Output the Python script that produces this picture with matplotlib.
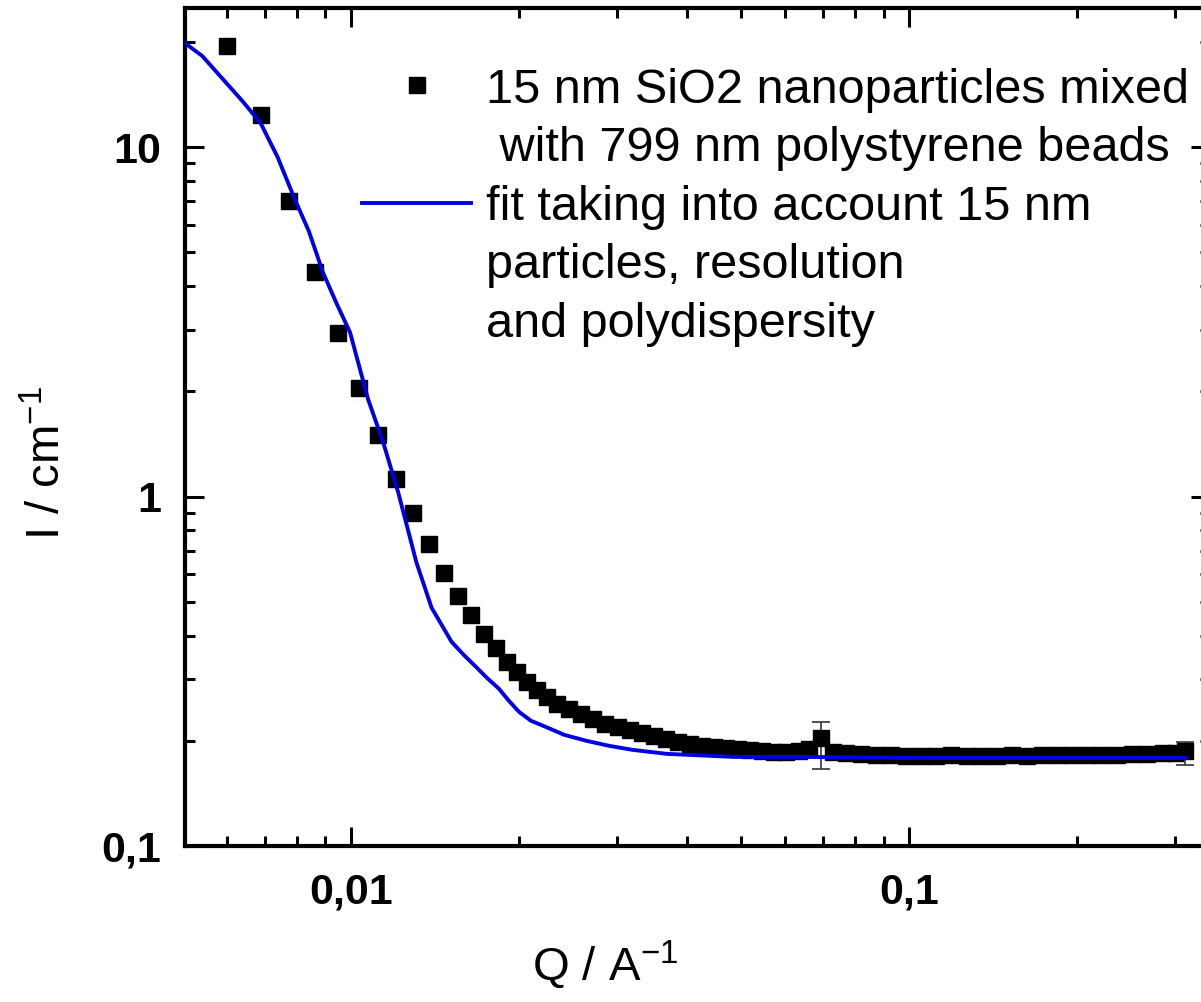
import matplotlib
matplotlib.use('Agg')
import matplotlib.pyplot as plt
from matplotlib.lines import Line2D
from matplotlib.ticker import FixedLocator, FixedFormatter, LogLocator, NullFormatter

plt.rcParams['font.family'] = ['Liberation Sans', 'DejaVu Sans']
plt.rcParams['mathtext.fontset'] = 'custom'
plt.rcParams['mathtext.rm'] = 'Liberation Sans'
plt.rcParams['mathtext.default'] = 'regular'

# measured data (Q in 1/A, I in 1/cm)
q_data = [0.00600, 0.00689, 0.00773, 0.00861, 0.00948, 0.01033, 0.01118, 0.01205,
          0.01293, 0.01382, 0.01465, 0.01552, 0.01639, 0.01729, 0.01817, 0.01902,
          0.01983, 0.02067, 0.02154, 0.02246, 0.02341,
          0.02460, 0.02586, 0.02718, 0.02857, 0.03003, 0.03156, 0.03317, 0.03486,
          0.03664, 0.03851, 0.04048, 0.04254, 0.04472, 0.04700, 0.04940, 0.05192,
          0.05457, 0.05735, 0.06028, 0.06336, 0.06604, 0.06941, 0.07296, 0.07700,
          0.08195, 0.08720, 0.09281, 0.09876, 0.1051, 0.1118, 0.1190, 0.1267,
          0.1348, 0.1435, 0.1527, 0.1625, 0.1729, 0.1840, 0.1958, 0.2084, 0.2218,
          0.2361, 0.2512, 0.2673, 0.2846, 0.2991, 0.3118]
i_data = [19.5, 12.35, 7.00, 4.38, 2.93, 2.05, 1.496, 1.126,
          0.900, 0.733, 0.606, 0.520, 0.459, 0.405, 0.369, 0.337,
          0.315, 0.295, 0.280, 0.267, 0.255,
          0.2470, 0.2389, 0.2311, 0.2237, 0.2193, 0.2150, 0.2108, 0.2066,
          0.2025, 0.1986, 0.1960, 0.1934, 0.1922, 0.1909, 0.1896, 0.1884,
          0.1871, 0.1859, 0.1859, 0.1871, 0.1896, 0.2039, 0.1859, 0.1847,
          0.1835, 0.1823, 0.1823, 0.1811, 0.1811, 0.1811, 0.1823, 0.1811,
          0.1811, 0.1811, 0.1823, 0.1811, 0.1823, 0.1823, 0.1823, 0.1823, 0.1823,
          0.1823, 0.1835, 0.1835, 0.1847, 0.1847, 0.1871]

# points with visible error bars
q_err = [0.06941, 0.3118]
i_err = [0.2039, 0.1871]
err_low = [0.0377, 0.0165]
err_high = [0.0227, 0.0115]

# fit curve
q_fit = [0.004981, 0.005412, 0.005955, 0.006389, 0.006885, 0.007387, 0.007927,
         0.008403, 0.008904, 0.009436, 0.009959, 0.01073, 0.01142, 0.01215,
         0.01310, 0.01394, 0.01514, 0.01591, 0.01673, 0.01751, 0.01840, 0.01918,
         0.02000, 0.02101, 0.02236, 0.02410, 0.02640, 0.02904, 0.03195, 0.03681,
         0.04838, 0.06390, 0.0967, 0.3130]
i_fit = [20.12, 18.23, 15.36, 13.54, 11.72, 9.36, 7.10,
         5.745, 4.383, 3.549, 2.951, 1.897, 1.428, 1.027,
         0.647, 0.481, 0.384, 0.3526, 0.326, 0.3030, 0.282, 0.2603,
         0.242, 0.2282, 0.219, 0.2080, 0.200, 0.1934, 0.1884, 0.1835,
         0.1799, 0.1799, 0.1787, 0.1787]

label_data = ["15 nm SiO2 nanoparticles mixed", " with 799 nm polystyrene beads"]
label_fit = ["fit taking into account 15 nm", "particles, resolution", "and polydispersity"]

x_ticks = [0.01, 0.1]
x_ticklabels = ["0,01", "0,1"]
y_ticks = [0.1, 1, 10]
y_ticklabels = ["0,1", "1", "10"]

fig = plt.figure(figsize=(12.01, 10.02), dpi=100)
ax = fig.add_axes([0.1540, 0.1557, 0.8535, 0.8363])
ax.set_xscale('log')
ax.set_yscale('log')

ax.errorbar(q_err, i_err, yerr=[err_low, err_high], fmt='none', ecolor='#333333',
            elinewidth=1.2, capsize=6.5, capthick=1.2, zorder=2)
ax.plot(q_data, i_data, 's', color='black', markersize=11, zorder=3)
ax.plot(q_fit, i_fit, '-', color='#0000e6', lw=2.8, zorder=4,
        solid_joinstyle='round')

ax.set_xlim(0.00504, 0.346)
ax.set_ylim(0.1, 25.0)

ax.xaxis.set_major_locator(FixedLocator(x_ticks))
ax.xaxis.set_major_formatter(FixedFormatter(x_ticklabels))
ax.xaxis.set_minor_locator(LogLocator(base=10, subs=range(2, 10)))
ax.xaxis.set_minor_formatter(NullFormatter())
ax.yaxis.set_major_locator(FixedLocator(y_ticks))
ax.yaxis.set_major_formatter(FixedFormatter(y_ticklabels))
ax.yaxis.set_minor_locator(LogLocator(base=10, subs=range(2, 10)))
ax.yaxis.set_minor_formatter(NullFormatter())

ax.tick_params(which='both', direction='in', top=True, right=True, width=2.2, color='black')
ax.tick_params(which='major', length=14)
ax.tick_params(which='minor', length=7)
ax.tick_params(axis='x', which='major', pad=19)
ax.tick_params(axis='y', which='major', pad=17)
for lab in ax.get_xticklabels() + ax.get_yticklabels():
    lab.set_fontsize(31)
    lab.set_fontweight('bold')
for sp in ax.spines.values():
    sp.set_linewidth(3)

ax.set_xlabel('Q / A$^{-1}$', fontsize=34, va='center', ha='center')
ax.xaxis.set_label_coords(0.41, -0.142)
ax.set_ylabel('I / cm$^{-1}$', fontsize=34, va='center', ha='center')
ax.yaxis.set_label_coords(-0.1337, 0.457)

blank = Line2D([], [], linestyle='none', marker=None)
h_data = Line2D([], [], linestyle='none', marker='s', color='black', markersize=11)
h_fit = Line2D([], [], linestyle='-', color='#0000e6', lw=2.8)
handles = [h_data, blank, h_fit, blank, blank]
labels = label_data + label_fit
ax.legend(handles, labels, loc='upper left', bbox_to_anchor=(0.1727, 0.929),
          frameon=False, fontsize=35, borderpad=0, borderaxespad=0,
          handlelength=2.25, handletextpad=0.3, labelspacing=0.28, numpoints=1)

fig.savefig('out.png', dpi=100)
